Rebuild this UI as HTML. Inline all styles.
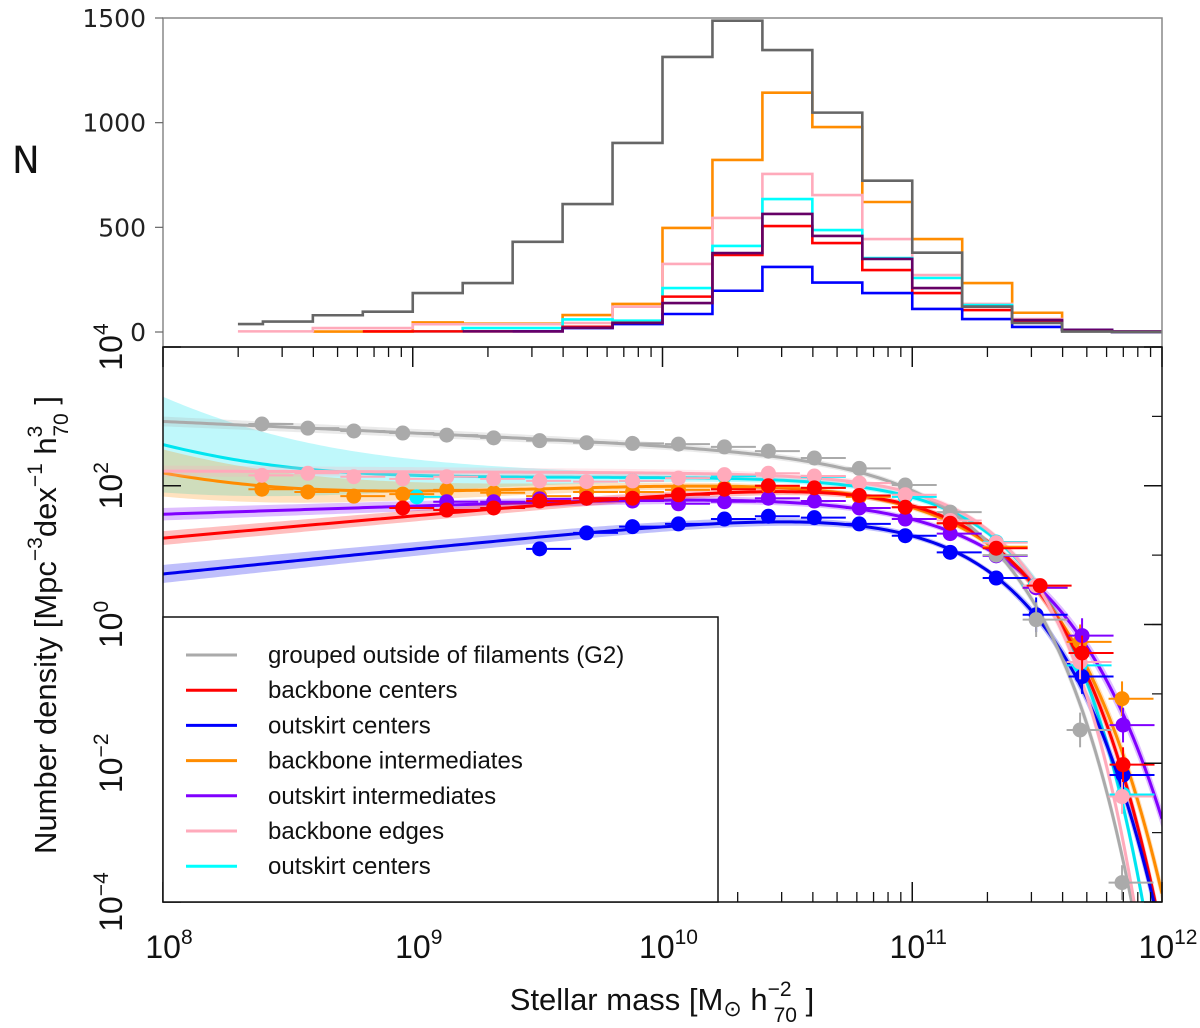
<!DOCTYPE html>
<html><head><meta charset="utf-8"><style>
html,body{margin:0;padding:0;background:#fff;}
svg{display:block;}
</style></head><body>
<svg id="chart" width="1200" height="1028" viewBox="0 0 1200 1028" xmlns="http://www.w3.org/2000/svg">
<rect width="1200" height="1028" fill="#fff"/>
<g id="topPanel"></g>
<g id="botPanel"></g>
<g id="overlayLayer"></g>
</svg>
<script>
// ---------- data: histogram (top panel) ----------
const histEdges = [8.3,8.4,8.6,8.8,9.0,9.2,9.4,9.6,9.8,10.0,10.2,10.4,10.6,10.8,11.0,11.2,11.4,11.6,11.8,12.0];
const histGray   = [38,50,80,97,186,234,431,611,903,1314,1487,1347,1048,723,379,121,43,2,0];
const histOrange = [0,0,2,2,46,40,40,81,134,497,822,1143,979,621,444,234,92,10,0];
const histPink   = [3,3,19,19,37,37,37,43,121,325,545,755,654,444,272,134,62,10,0];
const histCyan   = [0,0,0,0,3,19,19,60,54,210,411,635,487,353,258,129,50,10,0];
const histRed    = [0,0,0,3,3,3,3,25,44,169,368,506,425,296,186,105,50,10,0];
const histPurple = [0,0,0,0,0,3,3,20,43,138,377,564,459,349,210,121,57,10,3];
const histBlue   = [0,0,0,0,0,0,3,19,38,86,197,311,236,186,110,62,24,10,0];

// ---------- data: mass function points (log10 M, log10 phi) ----------
const grayM  = [8.396,8.58,8.764,8.96,9.136,9.324,9.508,9.696,9.88,10.064,10.248,10.424,10.608,10.788,10.972,11.152,11.336,11.496,11.672,11.84];
const grayP  = [2.89,2.83,2.79,2.76,2.73,2.69,2.65,2.62,2.61,2.60,2.56,2.50,2.40,2.25,2.01,1.62,1.00,0.07,-1.52,-3.72];
const pinkM  = grayM;
const pinkP  = [2.15,2.18,2.13,2.10,2.13,2.10,2.07,2.06,2.07,2.11,2.16,2.18,2.14,2.04,1.87,1.50,1.18,0.56,-0.54,-2.48];
const orangeM= grayM;
const orangeP= [1.95,1.91,1.85,1.88,1.94,1.90,1.85,1.91,1.91,1.94,1.97,1.98,1.97,1.84,1.69,1.46,1.12,0.53,-0.25,-1.07];
const redM   = [8.96,9.136,9.324,9.508,9.696,9.88,10.064,10.248,10.424,10.608,10.788,10.972,11.152,11.336,11.512,11.68,11.844];
const redP   = [1.68,1.65,1.68,1.78,1.82,1.82,1.87,1.95,2.00,1.97,1.86,1.69,1.46,1.10,0.56,-0.41,-2.02];
const purpleM= [9.136,9.324,9.508,9.696,9.88,10.064,10.248,10.424,10.608,10.788,10.972,11.152,11.336,11.496,11.68,11.844];
const purpleP= [1.77,1.77,1.81,1.82,1.78,1.74,1.77,1.82,1.78,1.68,1.52,1.31,0.99,0.53,-0.16,-1.45];
const blueM  = [9.508,9.696,9.88,10.064,10.248,10.424,10.608,10.788,10.972,11.152,11.336,11.496,11.68,11.844];
const blueP  = [1.09,1.32,1.41,1.45,1.52,1.56,1.54,1.45,1.28,1.04,0.67,0.14,-0.75,-2.17];
const cyanM  = [9.016,9.88,10.248,10.608,10.972,11.336,11.492,11.672,11.844];
const cyanP  = [1.84,2.07,2.14,2.13,1.84,1.19,0.56,-0.59,-2.45];
const pointErrX = 0.09;

// ---------- fit parameters: [p1, s1, p2, s2, Mc, b, bandWidth] ----------
const fitGray   = [2.44, -0.165, -9, 0, 10.95, 1.25, 0.03];
const fitRed    = [2.19, 0.32, -9, 0, 10.95, 1.15, 0.06];
const fitBlue   = [1.78, 0.36, -9, 0, 10.92, 1.10, 0.09];
const fitOrange = [2.17, 0.15, -1.07, -1.04, 10.95, 1.10, 0.30];
const fitPurple = [1.95, 0.12, -9, 0, 11.0, 1.05, 0.05];
const fitPink   = [2.18, -0.01, -9, 0, 11.12, 1.5, 0.04];
const fitCyan   = [2.15, 0.02, -1.6, -1.3, 11.1, 1.4, 0.65];

const legendLabels = ["grouped outside of filaments (G2)","backbone centers","outskirt centers","backbone intermediates","outskirt intermediates","backbone edges","outskirt centers"];

// ---------- layout ----------
const NS="http://www.w3.org/2000/svg";
const X0=163,X1=1162;
const TY0=15, TY1=347;
const BY0=347,BY1=902;
const xs = m => X0 + (m-8)/4*(X1-X0);
const yTop = n => 332 - n*(314/1500);
const yBot = lp => BY0 + (4-lp)/8*(BY1-BY0);
function el(tag, attrs, parent){const e=document.createElementNS(NS,tag);for(const k in attrs)e.setAttribute(k,attrs[k]);parent.appendChild(e);return e;}
const topG=document.getElementById('topPanel'), botG=document.getElementById('botPanel'), ovG=document.getElementById('overlayLayer');

// ---------- top panel ----------
function histPath(vals,color,name){
  let d='';
  let started=false;
  for(let i=0;i<vals.length;i++){
    if(vals[i]<=0 && !started) continue;
    const xa=xs(histEdges[i]), xb=xs(histEdges[i+1]), y=yTop(vals[i]);
    if(!started){d+=`M${xa},${y}`;started=true;} else d+=`L${xa},${y}`;
    d+=`L${xb},${y}`;
  }
  const p=el('path',{d:d,fill:'none',stroke:color,'stroke-width':2.6},topG);
  
  
}
histPath(histOrange,'#ff8c00','hist-backbone-intermediates');
histPath(histPink,'#ffaabb','hist-backbone-edges');
histPath(histCyan,'#00ffff','hist-outskirt-centers-cyan');
histPath(histRed,'#ff0000','hist-backbone-centers');
histPath(histBlue,'#0000ff','hist-outskirt-centers');
histPath(histPurple,'#660066','hist-outskirt-intermediates');
histPath(histGray,'#666666','hist-grouped-g2');
const tf=el('rect',{x:X0,y:TY0+3,width:X1-X0,height:TY1-TY0-3,fill:'none',stroke:'#888','stroke-width':1.5},topG);


const topTicks=[0,500,1000,1500];
topTicks.forEach(v=>{
  el('line',{x1:X0-8,x2:X0,y1:yTop(v),y2:yTop(v),stroke:'#666','stroke-width':1.2},topG);
  const t=el('text',{x:146,y:yTop(v)+9,'text-anchor':'end','font-family':'DejaVu Sans, sans-serif','font-size':25,fill:'#222'},topG);
  t.textContent=v;
  
  
});
const nl=el('text',{x:12,y:173,'font-family':'DejaVu Sans, sans-serif','font-size':37,fill:'#111'},topG);
nl.textContent='N';



// ---------- bottom panel ----------
const clip=el('clipPath',{id:'bc'},botG); el('rect',{x:X0,y:BY0,width:X1-X0,height:BY1-BY0},clip);
const plot=el('g',{'clip-path':'url(#bc)'},botG);
function model(f,m){
  const x=m-f[4];
  const lin=Math.pow(10,f[0]+f[1]*x)+Math.pow(10,f[2]+f[3]*x);
  return Math.log10(lin) - Math.pow(10,f[5]*x)/Math.LN10;
}
function halfBand(f,m){const t=Math.max(0,11-m)/3;return (f[6]>0.2? f[6]*t*t*t : f[6]*t)+0.04+Math.max(0,m-11.3)*0.15;}
function drawFit(f,color,name){
  const N=240; let up=[],lo=[],ln=[];
  for(let i=0;i<=N;i++){const m=8+4*i/N;const v=model(f,m);const h=halfBand(f,m);
    ln.push([xs(m),yBot(Math.max(v,-6))]);up.push([xs(m),yBot(Math.max(v+h,-6))]);lo.push([xs(m),yBot(Math.max(v-h,-6))]);}
  const bd='M'+up.map(p=>p.join(',')).join('L')+'L'+lo.reverse().map(p=>p.join(',')).join('L')+'Z';
  const b=el('path',{d:bd,fill:color,'fill-opacity':0.25,stroke:'none'},plot);
  
  
  const l=el('path',{d:'M'+ln.map(p=>p.join(',')).join('L'),fill:'none',stroke:color,'stroke-width':3},plot);
  
  
}
function drawPts(M,P,color,name){
  M.forEach((m,i)=>{
    const cx=xs(m), cy=yBot(P[i]);
    const g=el('g',{},plot);
    
    
    el('line',{x1:xs(m-pointErrX*0.6),x2:xs(m+pointErrX*1.4),y1:cy,y2:cy,stroke:color,'stroke-width':2},g);
    const ye = P[i]<0.5 ? 0.25 : 0.06;
    el('line',{x1:cx,x2:cx,y1:yBot(P[i]+ye),y2:yBot(P[i]-ye),stroke:color,'stroke-width':2},g);
    el('circle',{cx:cx,cy:cy,r:7.5,fill:color},g);
  });
}
drawFit(fitCyan,'#00e5f0','outskirt-centers-cyan');
drawFit(fitOrange,'#ff8c00','backbone-intermediates');
drawFit(fitPurple,'#8000ff','outskirt-intermediates');
drawFit(fitRed,'#ff0000','backbone-centers');
drawFit(fitBlue,'#0000ee','outskirt-centers');
drawFit(fitGray,'#aaaaaa','grouped-g2');
drawFit(fitPink,'#ffaabb','backbone-edges');
drawPts(cyanM,cyanP,'#00f0ff','outskirt-centers-cyan');
drawPts(orangeM,orangeP,'#ff8c00','backbone-intermediates');
drawPts(purpleM,purpleP,'#8000ff','outskirt-intermediates');
drawPts(blueM,blueP,'#0000ff','outskirt-centers');
drawPts(grayM,grayP,'#aaaaaa','grouped-g2');
drawPts(pinkM,pinkP,'#ffaabb','backbone-edges');
drawPts(redM,redP,'#ff0000','backbone-centers');

// ticks
const xMajor=[8,9,10,11,12];
const xTickText=['8','9','10','11','12'];
for(let d=8;d<12;d++){for(let k=2;k<=9;k++){const m=d+Math.log10(k);
  el('line',{x1:xs(m),x2:xs(m),y1:BY0,y2:BY0+10,stroke:'#111','stroke-width':1.3},botG);
  el('line',{x1:xs(m),x2:xs(m),y1:BY1,y2:BY1-10,stroke:'#111','stroke-width':1.3},botG);}}
xMajor.forEach((m,i)=>{
  el('line',{x1:xs(m),x2:xs(m),y1:BY0,y2:BY0+20,stroke:'#111','stroke-width':1.5},botG);
  el('line',{x1:xs(m),x2:xs(m),y1:BY1,y2:BY1-20,stroke:'#111','stroke-width':1.5},botG);
  const t=el('text',{x:xs(m)+6,y:958,'text-anchor':'middle','font-family':'Liberation Sans Narrow, Liberation Sans, sans-serif','font-size':32,fill:'#111'},botG);
  
  
  const a=document.createElementNS(NS,'tspan');a.textContent='10';t.appendChild(a);
  const b=document.createElementNS(NS,'tspan');b.setAttribute('dy','-14');b.setAttribute('font-size','21');b.textContent=xTickText[i];t.appendChild(b);
});
const yMajor=[4,2,0,-2,-4];
const yTickText=['4','2','0','−2','−4'];
for(let d=-4;d<4;d++){el('line',{x1:X1,x2:X1-10,y1:yBot(d+1),y2:yBot(d+1),stroke:'#111','stroke-width':1.2},botG);}
yMajor.forEach((v,i)=>{
  el('line',{x1:X0,x2:X0+18,y1:yBot(v),y2:yBot(v),stroke:'#111','stroke-width':1.5},botG);
  el('line',{x1:X1,x2:X1-18,y1:yBot(v),y2:yBot(v),stroke:'#111','stroke-width':1.5},botG);
  const t=el('text',{x:0,y:0,'text-anchor':'middle','font-family':'Liberation Sans Narrow, Liberation Sans, sans-serif','font-size':32,fill:'#111',transform:`translate(122,${yBot(v)}) rotate(-90)`},botG);
  
  
  const a=document.createElementNS(NS,'tspan');a.textContent='10';t.appendChild(a);
  const b=document.createElementNS(NS,'tspan');b.setAttribute('dy','-14');b.setAttribute('font-size','21');b.textContent=yTickText[i];t.appendChild(b);
});
const bf=el('rect',{x:X0,y:BY0,width:X1-X0,height:BY1-BY0,fill:'none',stroke:'#111','stroke-width':1.5},botG);



// legend
const legColors=['#aaaaaa','#ff0000','#0000ff','#ff8c00','#8000ff','#ffaabb','#00ffff'];
const lg=el('g',{},ovG);


el('rect',{x:X0,y:617,width:555,height:BY1-617,fill:'#fff',stroke:'#111','stroke-width':1.5},lg);
legendLabels.forEach((lab,i)=>{
  const y=655+i*35.2;
  const e=el('g',{},lg);
  
  
  el('line',{x1:186,x2:237,y1:y,y2:y,stroke:legColors[i],'stroke-width':3},e);
  const t=el('text',{x:268,y:y+8,'font-family':'Liberation Sans, sans-serif','font-size':24,fill:'#111'},e);
  t.textContent=lab;
});

// axis titles
const xt=el('text',{x:662,y:1010,'text-anchor':'middle','font-family':'Liberation Sans Narrow, Liberation Sans, sans-serif','font-size':31,fill:'#111'},ovG);


xt.innerHTML='Stellar mass [M<tspan font-size="22" dy="6">⊙</tspan><tspan dy="-6"> h</tspan><tspan font-size="21" dy="-14">−2</tspan><tspan font-size="21" dx="-18" dy="26">70</tspan><tspan dy="-12"> ]</tspan>';
const yt=el('text',{x:0,y:0,'text-anchor':'middle','font-family':'Liberation Sans Narrow, Liberation Sans, sans-serif','font-size':31,fill:'#111',transform:'translate(56,625) rotate(-90)'},ovG);


yt.innerHTML='Number density [Mpc<tspan font-size="21" dy="-14">−3</tspan><tspan dy="14">dex</tspan><tspan font-size="21" dy="-14">−1</tspan><tspan dy="14"> h</tspan><tspan font-size="21" dy="-14">3</tspan><tspan font-size="21" dx="-11" dy="26">70</tspan><tspan dy="-12"> ]</tspan>';
</script>
</body></html>
